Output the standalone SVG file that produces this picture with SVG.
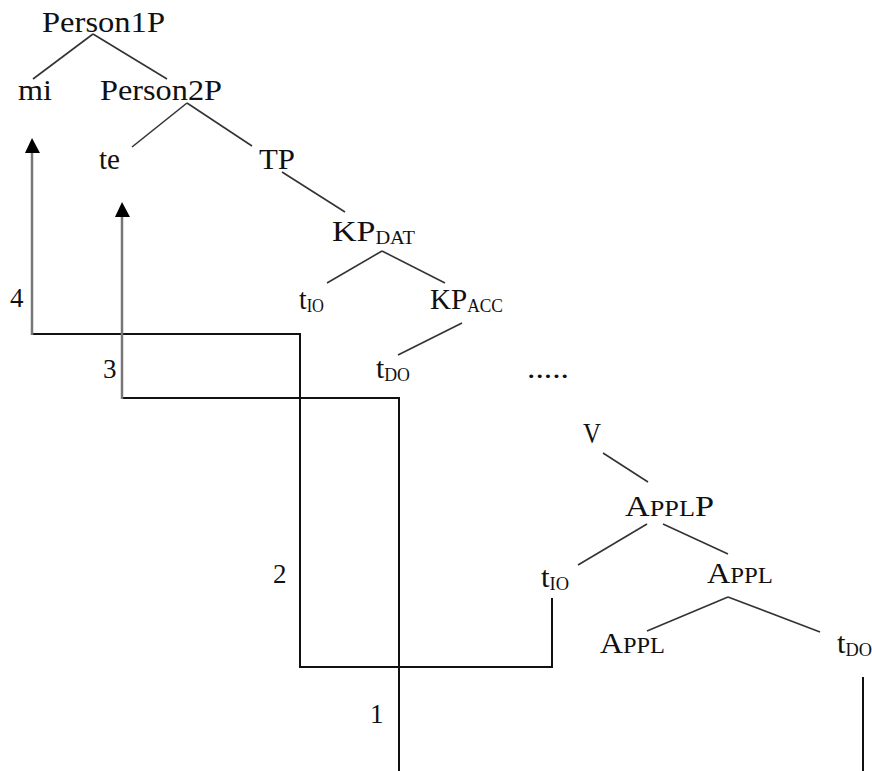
<svg xmlns="http://www.w3.org/2000/svg" width="872" height="771" viewBox="0 0 872 771">
<style>
text{font-family:"Liberation Serif","Times New Roman",serif;font-size:30px;fill:#111}
.sub{font-size:18px}
.sc{font-size:23px}
.num{font-size:27px}
.edge{stroke:#333;stroke-width:1.6;fill:none}
.mv{stroke:#111;stroke-width:2;fill:none}
.mvg{stroke:#777;stroke-width:2.5;fill:none}
.head{fill:#000}
</style>
<rect width="872" height="771" fill="#fff"/>
<g id="connectors">
<g id="tree-edges">
<line class="edge" x1="93" y1="34" x2="33" y2="79"/>
<line class="edge" x1="93" y1="34" x2="167" y2="79"/>
<line class="edge" x1="187" y1="103" x2="132" y2="147"/>
<line class="edge" x1="187" y1="103" x2="252" y2="146"/>
<line class="edge" x1="282" y1="172" x2="345" y2="212"/>
<line class="edge" x1="382" y1="251" x2="327" y2="283"/>
<line class="edge" x1="382" y1="251" x2="445" y2="283"/>
<line class="edge" x1="462" y1="323" x2="398" y2="355"/>
<line class="edge" x1="603" y1="453" x2="648" y2="482"/>
<line class="edge" x1="647" y1="524" x2="578" y2="565"/>
<line class="edge" x1="663" y1="524" x2="728" y2="554"/>
<line class="edge" x1="728" y1="597" x2="647" y2="631"/>
<line class="edge" x1="728" y1="597" x2="820" y2="632"/>
</g>
<g id="movement-io">
<polyline class="mv" points="552,598 552,667 300,667 300,334 32,334"/>
<line class="mvg" x1="32" y1="335" x2="32" y2="150"/>
<polygon class="head" points="32,138 25,153 40,153"/>
</g>
<g id="movement-do">
<line class="mv" x1="863" y1="677" x2="863" y2="771"/>
<polyline class="mv" points="399,771 399,398 122,398"/>
<line class="mvg" x1="122" y1="399" x2="122" y2="214"/>
<polygon class="head" points="122,202 115,217 130,217"/>
</g>
</g>
<g id="person1p"><text x="42" y="32" textLength="123" lengthAdjust="spacingAndGlyphs">Person1P</text></g>
<g id="mi"><text x="18" y="100" textLength="34" lengthAdjust="spacingAndGlyphs">mi</text></g>
<g id="person2p"><text x="100" y="100" textLength="122" lengthAdjust="spacingAndGlyphs">Person2P</text></g>
<g id="te"><text x="99" y="169" textLength="21" lengthAdjust="spacingAndGlyphs">te</text></g>
<g id="tp"><text x="259" y="169" textLength="36" lengthAdjust="spacingAndGlyphs">TP</text></g>
<g id="kpdat"><text x="332" y="241" textLength="83" lengthAdjust="spacingAndGlyphs">KP<tspan class="sub" dy="3">DAT</tspan></text></g>
<g id="tio1"><text x="299" y="309" textLength="25" lengthAdjust="spacingAndGlyphs">t<tspan class="sub" dy="3">IO</tspan></text></g>
<g id="kpacc"><text x="430" y="309" textLength="73" lengthAdjust="spacingAndGlyphs">KP<tspan class="sub" dy="3">ACC</tspan></text></g>
<g id="tdo1"><text x="376" y="378" textLength="34" lengthAdjust="spacingAndGlyphs">t<tspan class="sub" dy="3">DO</tspan></text></g>
<g id="dots"><text x="527" y="378" textLength="42" lengthAdjust="spacingAndGlyphs">.....</text></g>
<g id="v"><text x="583" y="443" textLength="18" lengthAdjust="spacingAndGlyphs">V</text></g>
<g id="applp"><text x="625" y="516" textLength="89" lengthAdjust="spacingAndGlyphs">A<tspan class="sc">PPL</tspan>P</text></g>
<g id="tio2"><text x="541" y="587" textLength="28" lengthAdjust="spacingAndGlyphs">t<tspan class="sub" dy="3">IO</tspan></text></g>
<g id="appl1"><text x="707" y="583" textLength="66" lengthAdjust="spacingAndGlyphs">A<tspan class="sc">PPL</tspan></text></g>
<g id="appl2"><text x="600" y="653" textLength="65" lengthAdjust="spacingAndGlyphs">A<tspan class="sc">PPL</tspan></text></g>
<g id="tdo2"><text x="837" y="653" textLength="35" lengthAdjust="spacingAndGlyphs">t<tspan class="sub" dy="3">DO</tspan></text></g>
<g id="labels">
<text class="num" x="10" y="307">4</text>
<text class="num" x="103" y="378">3</text>
<text class="num" x="273" y="583">2</text>
<text class="num" x="370" y="723">1</text>
</g>
</svg>
